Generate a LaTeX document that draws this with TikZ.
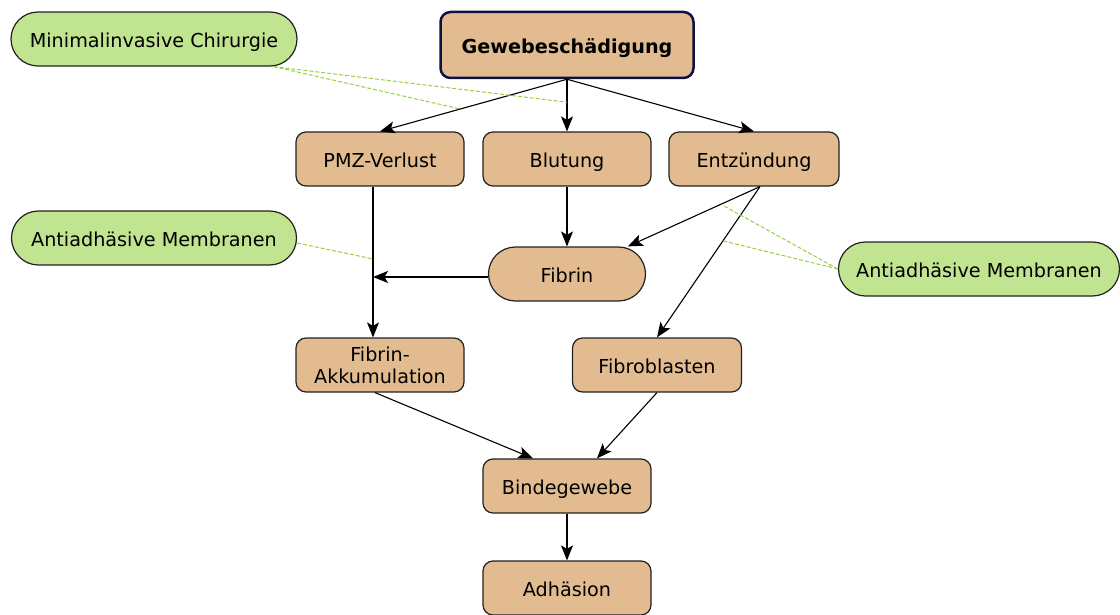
\documentclass[tikz,border=0pt]{standalone}
\usepackage{fontspec}
\setmainfont{DejaVu Sans}
\usetikzlibrary{arrows.meta,calc}
\definecolor{tan}{RGB}{226,188,144}
\definecolor{lgreen}{RGB}{193,228,145}
\definecolor{dgreen}{RGB}{150,208,64}
\definecolor{navy}{RGB}{16,16,64}
\definecolor{edge}{RGB}{34,34,34}
\begin{document}
\begin{tikzpicture}[x=1pt,y=-1pt,
  every node/.style={font=\fontsize{19.2}{21}\selectfont, inner sep=0pt, align=center, text height=16.4pt, text depth=0pt},
  box/.style={draw=edge, line width=1.2pt, fill=tan, rounded corners=10pt, minimum width=168pt, minimum height=54pt},
  topbox/.style={box, draw=navy, line width=2.5pt, minimum width=253pt, minimum height=66pt, font=\fontsize{19.2}{21}\selectfont\bfseries},
  pill/.style={draw=edge, line width=1.2pt, fill=lgreen, rounded corners=27pt, minimum height=54pt},
  arr/.style={line width=1.1pt, -{Stealth[length=15pt,width=12pt,inset=3.5pt]}},
  link/.style={draw=dgreen, line width=1pt, dash pattern=on 4pt off 2pt},
  txt/.style={anchor=base, text height=, text depth=}]
\useasboundingbox (0,0) rectangle (1120,615);

\node[topbox] (G) at (567,45) {Gewebeschädigung};
\node[pill, minimum width=286pt] (MC) at (154,39) {Minimalinvasive Chirurgie};
\node[box] (P) at (380,159) {PMZ-Verlust};
\node[box] (B) at (567,159) {Blutung};
\node[box, minimum width=170pt] (E) at (754,159) {Entzündung};
\node[pill, minimum width=285pt] (AL) at (154,238) {Antiadhäsive Membranen};
\node[box, fill=tan, rounded corners=27pt, minimum width=157pt] (F) at (567,274) {Fibrin};
\node[pill, minimum width=281pt] (AR) at (979,269) {Antiadhäsive Membranen};
\node[box] (FA) at (380,365) {};
\node[txt] (FAt1) at ($(FA.center)+(0,-4)$) {Fibrin-};
\node[txt] (FAt2) at ($(FA.center)+(0,18)$) {Akkumulation};
\node[box, minimum width=169pt] (FB) at (657,365) {Fibroblasten};
\node[box] (BG) at (567,486) {Bindegewebe};
\node[box] (AD) at (567,588) {Adhäsion};

\coordinate (Pout) at ([xshift=-7pt]P.south);
\coordinate (FAin) at ([xshift=-7pt]FA.north);
\coordinate (Eout) at ([xshift=6pt]E.south);
\coordinate (FAout) at ([xshift=-5pt]FA.south);
\coordinate (BGinL) at ([xshift=-34pt]BG.north);
\coordinate (BGinR) at ([xshift=30pt]BG.north);
\coordinate (Fw) at ([yshift=-3pt]F.west);
\coordinate (Fhit) at (Pout |- Fw);

\draw[arr] (G.south) -- (P.north);
\draw[arr] (G.south) -- (B.north);
\draw[arr] (G.south) -- (E.north);
\draw[arr] (B.south) -- (F.north);
\draw[arr] (Eout) -- (F);
\draw[arr] (Eout) -- (FB.north);
\draw[arr] (Pout) -- (FAin);
\draw[arr] (Fw) -- (Fhit);
\draw[arr] (FAout) -- (BGinL);
\draw[arr] (FB.south) -- (BGinR);
\draw[arr] (BG.south) -- (AD.north);

\coordinate (d1) at ($(G.south)!0.57!(P.north)$);
\coordinate (d2) at ($(G.south)!0.44!(B.north)$);
\coordinate (EF) at ($(Eout)!0.32!(F.north east)$);
\coordinate (d3) at ($(Eout)!0.36!(FB.north)$);
\coordinate (d4) at ($(Pout)!0.48!(FAin)$);
\coordinate (MCs) at ([xshift=-24pt]MC.south east);
\coordinate (ALs) at ([yshift=-5pt]AL.east);

\draw[link] (MCs) -- (d1);
\draw[link] (MCs) -- (d2);
\draw[link] (AR.west) -- (EF);
\draw[link] (AR.west) -- (d3);
\draw[link] (ALs) -- (d4);
\end{tikzpicture}
\end{document}
